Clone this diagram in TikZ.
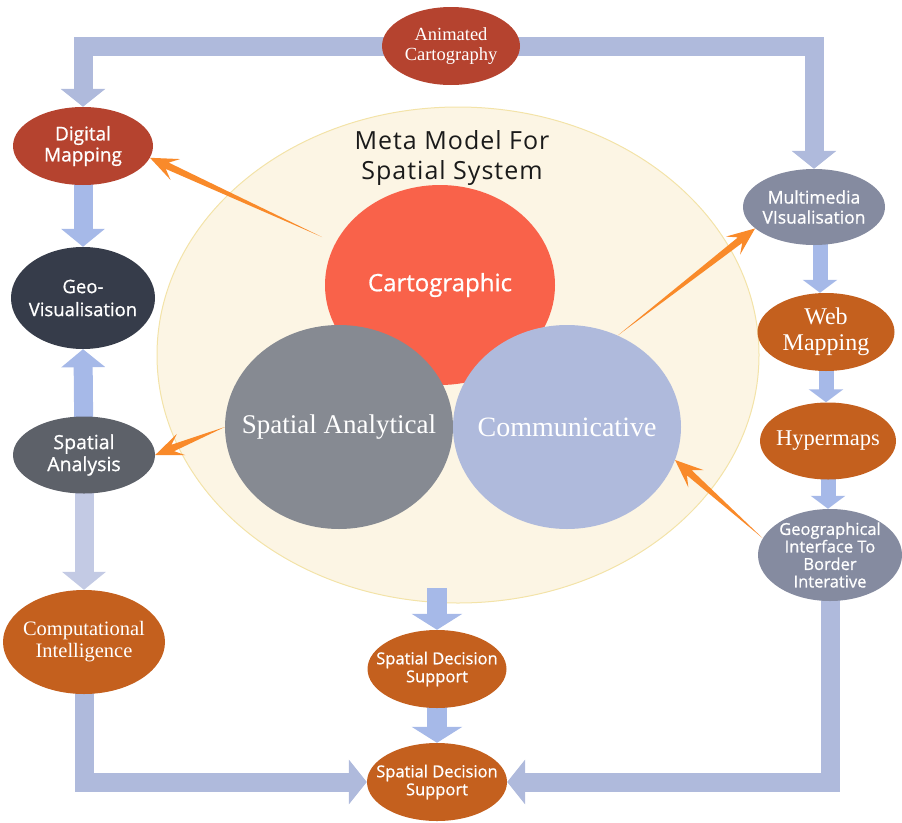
\documentclass[tikz,border=0pt]{standalone}
\usepackage{fontspec}
\usetikzlibrary{shapes.geometric,arrows.meta,calc}
\newfontfamily\sansf{Open Sans}[FakeBold=0.8]
\newfontfamily\titlef{Open Sans}[LetterSpace=4]
\newfontfamily\serf{Liberation Serif}
\definecolor{bigfill}{HTML}{FCF5E4}
\definecolor{bigline}{HTML}{F3E3A8}
\definecolor{cartoc}{HTML}{F9624A}
\definecolor{analc}{HTML}{868A92}
\definecolor{commc}{HTML}{AFBADC}
\definecolor{redc}{HTML}{B5432F}
\definecolor{brownc}{HTML}{C4601E}
\definecolor{navyc}{HTML}{363C4A}
\definecolor{slatec}{HTML}{5D6169}
\definecolor{greyblue}{HTML}{858BA0}
\definecolor{blkA}{HTML}{AFBADC}
\definecolor{blkB}{HTML}{A6B9E8}
\definecolor{blkC}{HTML}{C3CAE4}
\definecolor{orng}{HTML}{F98A2A}
\definecolor{titlec}{HTML}{1A1A1A}
\pgfdeclarelayer{bg}
\pgfdeclarelayer{mid}
\pgfsetlayers{bg,mid,main}
\newcommand\taperarrow[2]{%
  \path (#2) coordinate (tH) ($(#2)!28pt!(#1)$) coordinate (tB) ($(#2)!19pt!(#1)$) coordinate (tN);
  \fill[orng] (#1) -- ($(tN)!3.5pt!90:(tH)$) -- ($(tB)!11.5pt!90:(tH)$) -- (tH)
     -- ($(tB)!11.5pt!-90:(tH)$) -- ($(tN)!3.5pt!-90:(tH)$) -- cycle;}
\begin{document}
\begin{tikzpicture}[x=1pt,y=-1pt,
  oval/.style={ellipse,inner sep=0pt},
  sl/.style 2 args={font=\sansf\fontsize{#1}{#2}\selectfont,text=white,align=center},
  rl/.style 2 args={font=\serf\fontsize{#1}{#2}\selectfont,text=white,align=center},
  bigL/.style={draw=blkA,line width=19pt,line join=miter,-{Triangle[width=44pt,length=18pt]}},
  colL/.style={draw=blkB,line width=19pt,-{Triangle[width=43pt,length=18pt]}},
  colR/.style={draw=blkB,line width=15pt,-{Triangle[width=34pt,length=13pt]}},
  colM/.style={draw=blkB,line width=20pt,-{Triangle[width=50pt,length=16pt]}}]
\useasboundingbox (0,0) rectangle (902,822);
\begin{pgfonlayer}{bg}
\node[ellipse,fill=bigfill,draw=bigline,line width=1pt,minimum width=602pt,minimum height=496pt,inner sep=0pt] (big) at (458,355) {};
\node[font=\titlef\fontsize{25}{30}\selectfont,text=titlec,align=center] (title) at (452,158) {Meta Model For\\Spatial System};
\node[oval,fill=cartoc,minimum width=230pt,minimum height=200pt,
  label={[sl={24}{28}]center:Cartographic}] (carto) at (440,285) {};
\node[oval,fill=analc,minimum width=228pt,minimum height=204pt,
  label={[rl={27}{32}]center:Spatial Analytical}] (anal) at (339,427) {};
\node[oval,fill=commc,minimum width=228pt,minimum height=204pt,
  label={[rl={28}{32}]center:Communicative}] (comm) at (567,427) {};
\end{pgfonlayer}
% small nodes
\node[oval,fill=redc,minimum width=138pt,minimum height=78pt,
  label={[rl={18.5}{20}]center:{Animated\\Cartography}}] (anim) at (451,46) {};
\node[oval,fill=redc,minimum width=140pt,minimum height=78pt,
  label={[sl={19}{21}]center:{Digital\\Mapping}}] (digital) at (83,146) {};
\node[oval,fill=navyc,minimum width=144pt,minimum height=102pt,
  label={[sl={18.5}{23}]center:{Geo-\\Visualisation}}] (geovis) at (83,298) {};
\node[oval,fill=slatec,minimum width=142pt,minimum height=77pt,
  label={[sl={19.5}{22}]center:{Spatial\\Analysis}}] (sanal) at (84,455) {};
\node[oval,fill=brownc,minimum width=162pt,minimum height=104pt,
  label={[rl={20.5}{22}]center:{Computational\\Intelligence}}] (comp) at (84,642) {};
\node[oval,fill=brownc,minimum width=139pt,minimum height=78pt,
  label={[sl={16.5}{18}]center:{Spatial Decision\\Support}}] (sdsm) at (437,669) {};
\node[oval,fill=brownc,minimum width=140pt,minimum height=78pt,
  label={[sl={16.5}{18}]center:{Spatial Decision\\Support}}] (sdsb) at (437,782) {};
\node[oval,fill=greyblue,minimum width=142pt,minimum height=76pt,
  label={[sl={17.5}{20}]center:{Multimedia\\VIsualisation}}] (multi) at (814,207) {};
\node[oval,fill=brownc,minimum width=137pt,minimum height=78pt,
  label={[rl={24}{26}]center:{Web\\Mapping}}] (web) at (826,332) {};
\node[oval,fill=brownc,minimum width=136pt,minimum height=77pt,
  label={[rl={22.5}{25}]center:Hypermaps}] (hyper) at (828,441) {};
\node[oval,fill=greyblue,minimum width=144pt,minimum height=92pt,
  label={[sl={16.5}{17.5}]center:{Geographical\\Interface To\\Border\\Interative}}] (geo) at (830,555) {};
\coordinate (bigtail) at (437,588);
\coordinate (cartotail) at (322,237);
% block arrows
\begin{pgfonlayer}{mid}
\draw[bigL] (anim.center) -| (digital.north);
\draw[bigL] (anim.center) -| (multi.north);
\draw[bigL] (comp.center) |- (sdsb.west);
\draw[bigL] (geo.center) |- (sdsb.east);
\draw[colL] (digital.center) -- (geovis.north);
\draw[colL] (sanal.center) -- (geovis.south);
\draw[colL,draw=blkC] (sanal.center) -- (comp.north);
\draw[colM] (bigtail) -- (sdsm.north);
\draw[colM] (sdsm.center) -- (sdsb.north);
\draw[colR] ([xshift=6pt]multi.center) -- ([xshift=6pt]multi.center |- web.north);
\draw[colR] (web.center) -- (web.center |- hyper.north);
\draw[colR] (hyper.center) -- (hyper.center |- geo.north);
\end{pgfonlayer}
% orange tapered arrows
\taperarrow{cartotail}{digital.-10}
\taperarrow{anal.west}{sanal.east}
\taperarrow{comm.61}{multi.200}
\taperarrow{geo.166}{comm.-17}
\end{tikzpicture}
\end{document}
